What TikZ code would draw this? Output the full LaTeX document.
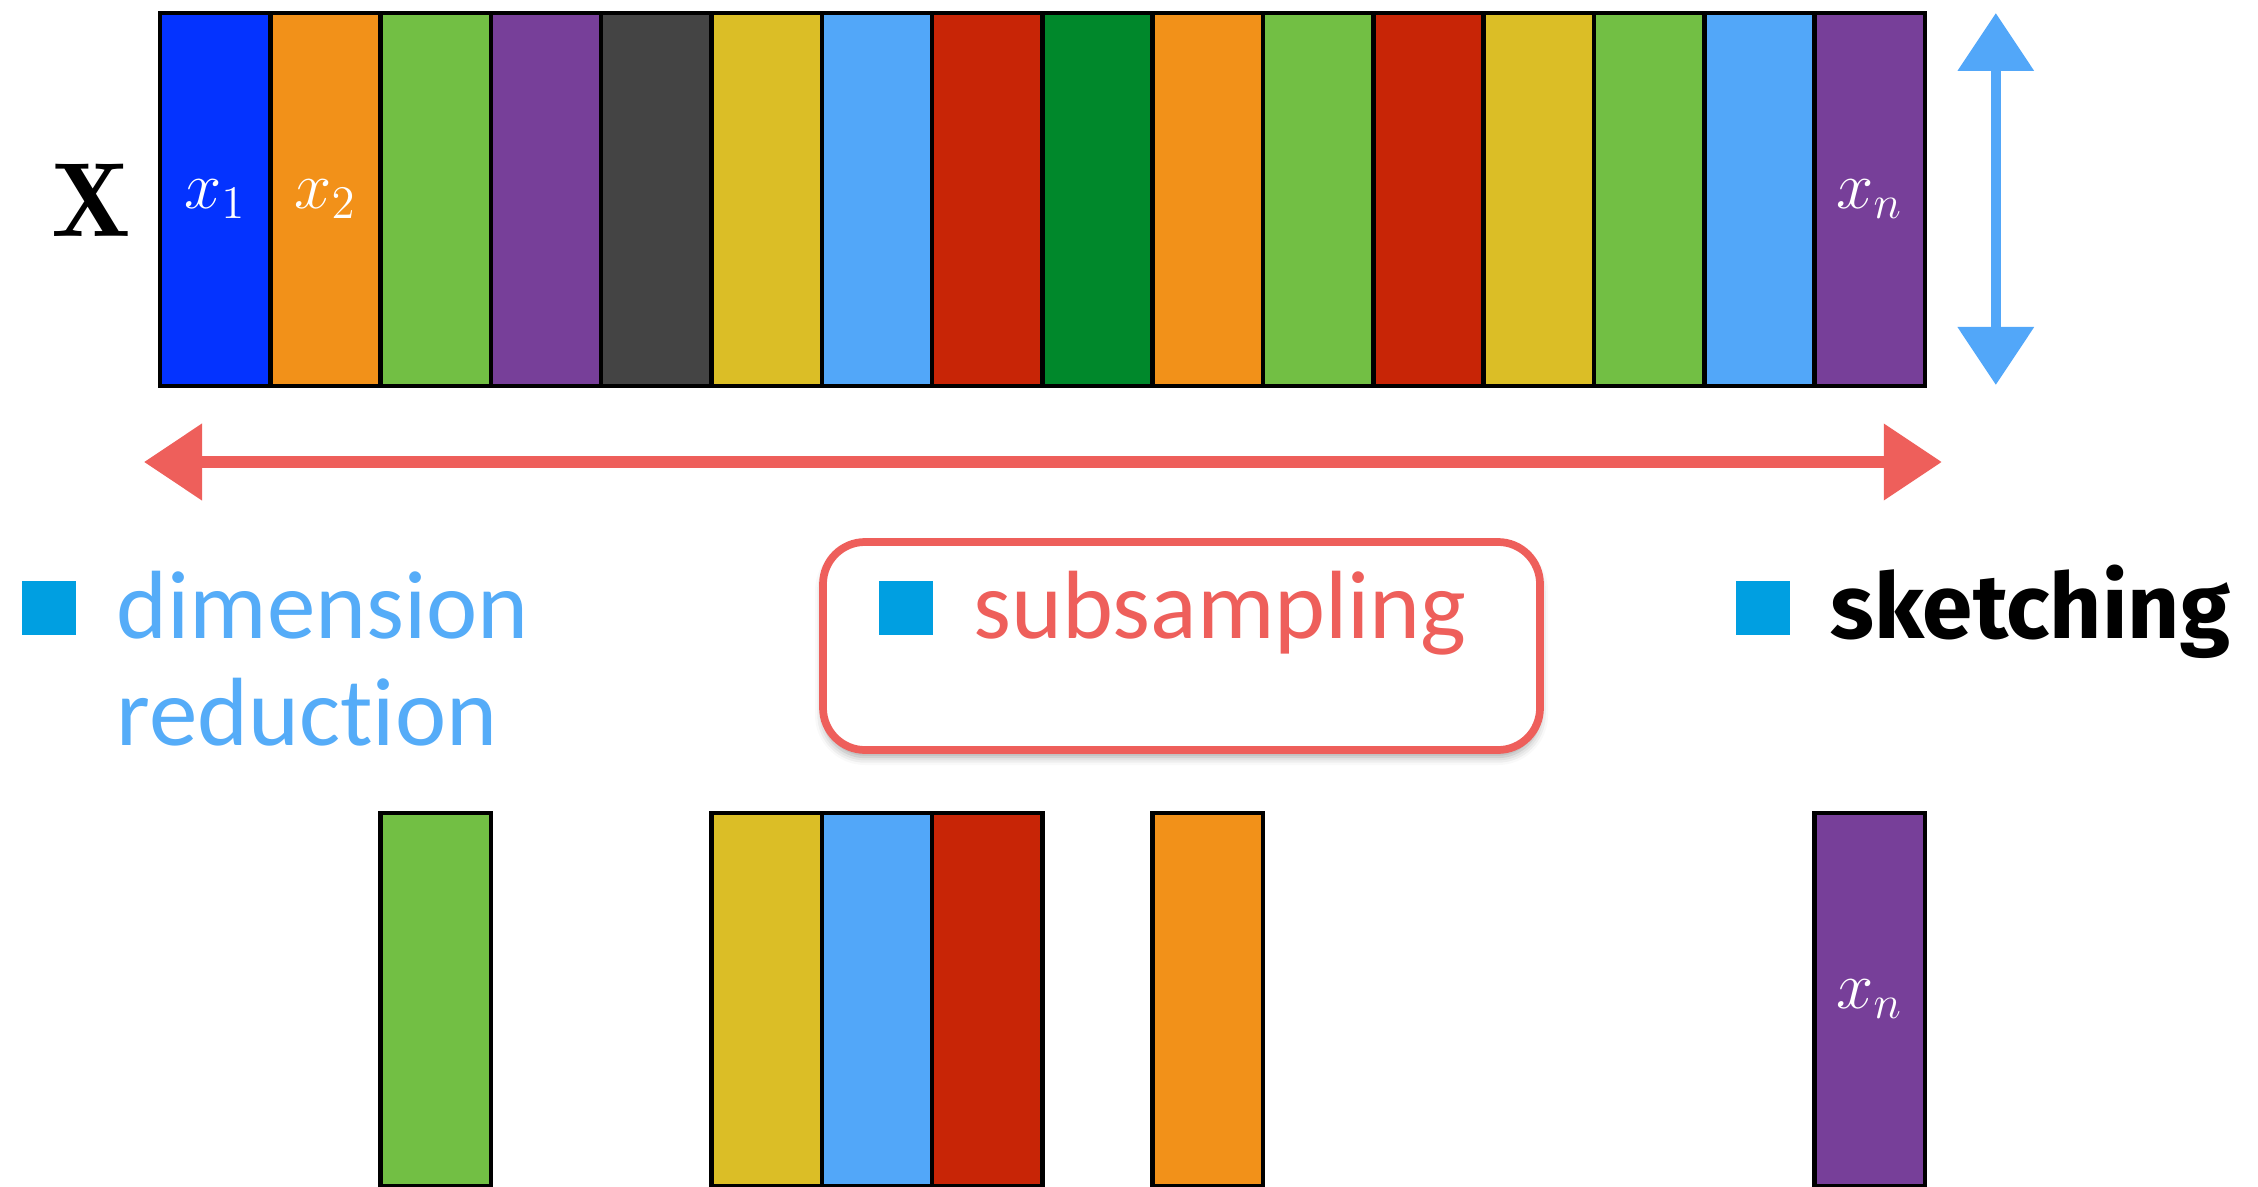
\documentclass[tikz,border=0pt]{standalone}
\usepackage{fix-cm}
\usepackage{fontspec}
\newfontfamily\itemfont[Ligatures=NoCommon]{Carlito}
\newfontfamily\skfont{Fira Sans}
\usetikzlibrary{arrows.meta,positioning,shadows.blur}

\definecolor{colBlue}{HTML}{0433FF}
\definecolor{colOrange}{HTML}{F29119}
\definecolor{colGreen}{HTML}{72BF44}
\definecolor{colPurple}{HTML}{773F99}
\definecolor{colGray}{HTML}{444444}
\definecolor{colYellow}{HTML}{DBBE26}
\definecolor{colSky}{HTML}{52A7F9}
\definecolor{colRed}{HTML}{C82506}
\definecolor{colDGreen}{HTML}{00882B}
\definecolor{bulletBlue}{HTML}{009FE1}
\definecolor{dimBlue}{HTML}{55ACF8}
\definecolor{subRed}{HTML}{EE5F5B}

\begin{document}
\begin{tikzpicture}[
  colbox/.style={draw=black,line width=1.3pt,inner sep=0pt,outer sep=0pt,minimum width=1.103cm,minimum height=3.73cm,anchor=north west},
  collabel/.style={text=white,inner sep=0pt,font=\fontsize{19}{23}\selectfont},
  bullet/.style={fill=bulletBlue,minimum size=0.54cm,inner sep=0pt,outer sep=0pt},
  item/.style={anchor=base west,inner sep=0pt,font=\itemfont\fontsize{27.6}{32}\selectfont},
  dimarrow/.style={draw=colSky,line width=3pt,{Triangle[width=0.74cm,length=0.58cm]}-{Triangle[width=0.74cm,length=0.58cm]}},
  samparrow/.style={draw=subRed,line width=3.2pt,{Triangle[width=0.74cm,length=0.58cm]}-{Triangle[width=0.74cm,length=0.58cm]}},
  hlbox/.style={draw=subRed,line width=2.2pt,rounded corners=0.42cm,fill=white,minimum width=7.17cm,minimum height=2.08cm,
    blur shadow={shadow xshift=0pt,shadow yshift=-0.07cm,shadow blur radius=0.08cm,shadow opacity=35}}
]
\useasboundingbox (0,0) rectangle (22.58,-11.87);

\node[font=\fontsize{30}{36}\selectfont,inner sep=0pt] (Xlab) at (0.91,-2.0) {$\mathbf{X}$};

\foreach \c [count=\i] in {colBlue,colOrange,colGreen,colPurple,colGray,colYellow,colSky,colRed,colDGreen,colOrange,colGreen,colRed,colYellow,colGreen,colSky,colPurple}
  \node[colbox,fill=\c] (col\i) at ({1.60+(\i-1)*1.103},-0.13) {};
\node[collabel] (lab1) at (col1) {$x_1$};
\node[collabel] (lab2) at (col2) {$x_2$};
\node[collabel] (labn) at (col16) {$x_n$};

\coordinate (vtop) at ([xshift=0.71cm]col16.north east);
\coordinate (vbot) at ([xshift=0.71cm,yshift=0.01cm]col16.south east);
\draw[dimarrow] (vtop) -- (vbot);
\coordinate (hleft) at ([xshift=-0.16cm,yshift=-0.76cm]col1.south west);
\coordinate (hright) at ([xshift=0.17cm,yshift=-0.76cm]col16.south east);
\draw[samparrow] (hleft) -- (hright);

\node[hlbox] (subbox) at (11.815,-6.46) {};

\node[bullet] (bul1) at (0.49,-6.08) {};
\node[item,text=dimBlue] (dim) at ([xshift=0.40cm,yshift=-0.30cm]bul1.east) {dimension};
\node[item,text=dimBlue] (red) at ([yshift=-1.07cm]dim.base west) {reduction};
\node[bullet] (bul2) at (9.055,-6.08) {};
\node[item,text=subRed] (sub) at ([xshift=0.40cm,yshift=-0.30cm]bul2.east) {subsampling};
\node[bullet] (bul3) at (17.625,-6.08) {};
\node[item,font=\skfont\bfseries\fontsize{25.8}{30}\selectfont] (sk) at ([xshift=0.40cm,yshift=-0.30cm]bul3.east) {sketching};

\foreach \i/\c in {3/colGreen,6/colYellow,7/colSky,8/colRed,10/colOrange,16/colPurple}
  \node[colbox,fill=\c] (pick\i) at ([yshift=-8cm]col\i.north west) {};
\node[collabel] (pickn) at (pick16) {$x_n$};
\end{tikzpicture}
\end{document}
